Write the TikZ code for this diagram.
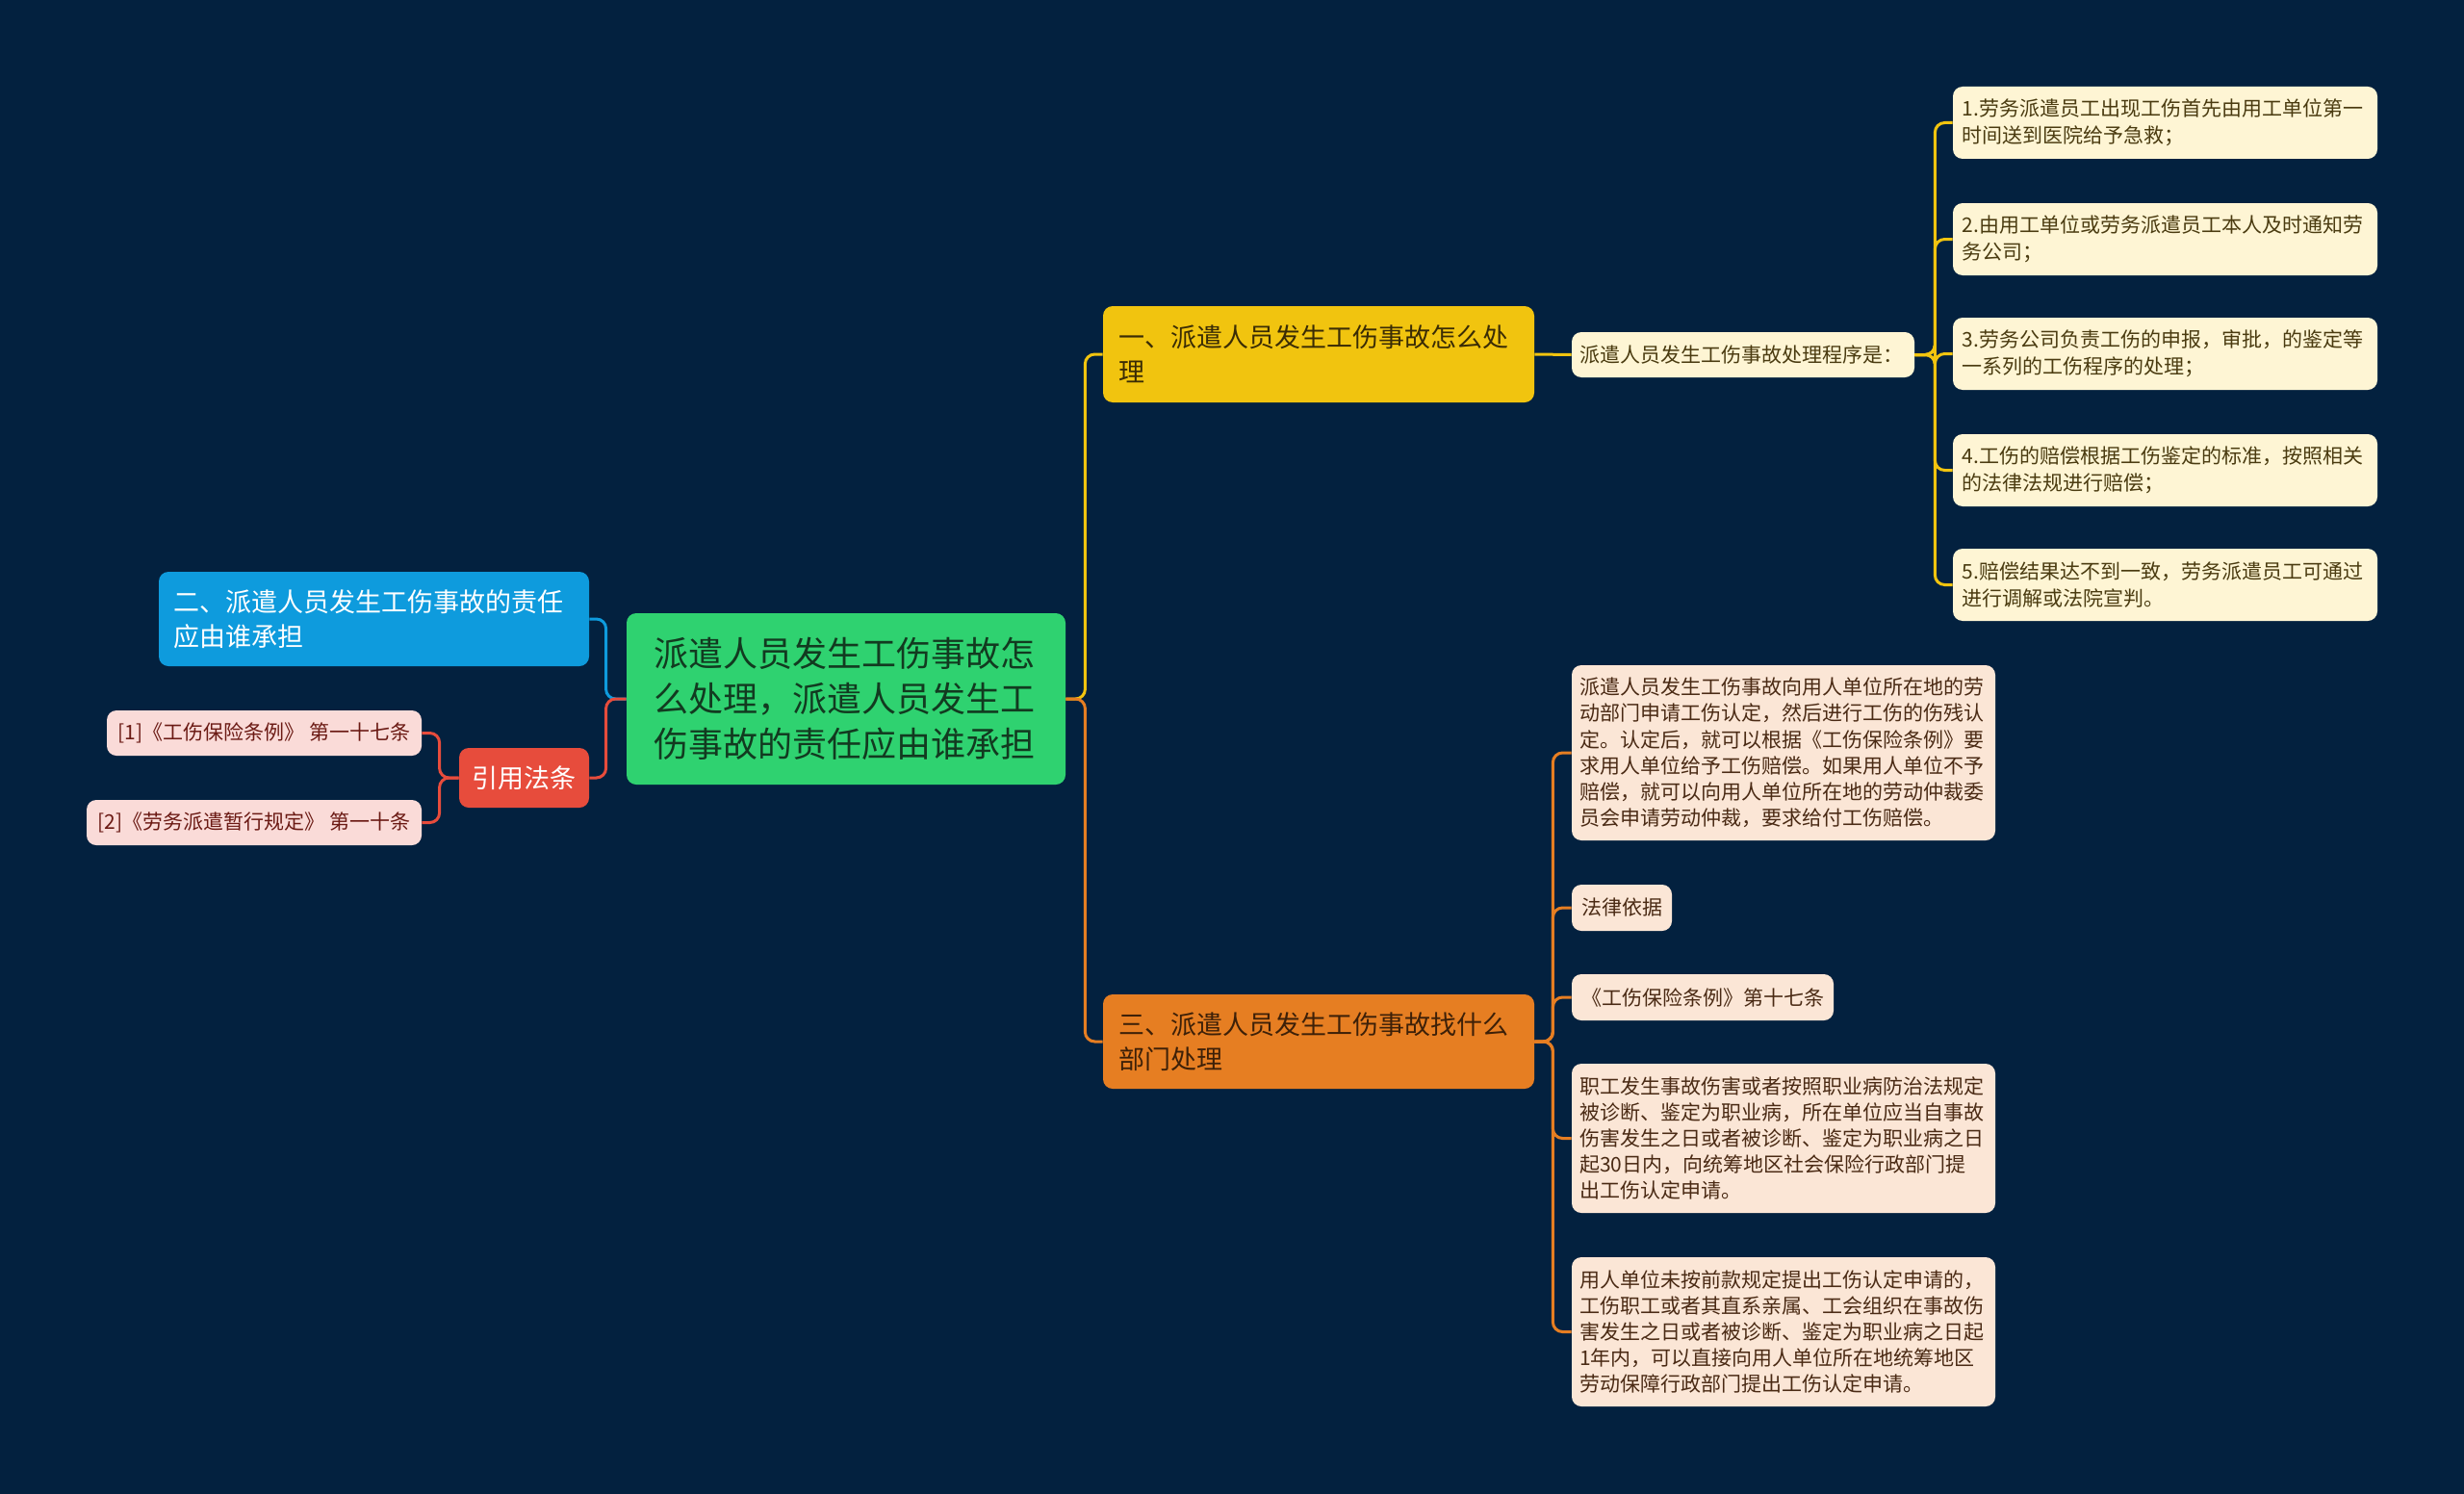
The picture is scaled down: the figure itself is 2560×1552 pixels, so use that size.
\documentclass[tikz,border=0pt]{standalone}
\usepackage{fontspec}
\setmainfont{Noto Sans CJK SC}
\definecolor{bg}{HTML}{03213F}
\definecolor{cgreen}{HTML}{2FD270}
\definecolor{cyellow}{HTML}{F1C40F}
\definecolor{corange}{HTML}{E67E22}
\definecolor{cblue}{HTML}{0E9BDD}
\definecolor{cred}{HTML}{E74C3C}
\definecolor{cpink}{HTML}{FADBD8}
\definecolor{ccream}{HTML}{FEF5D4}
\definecolor{cpeach}{HTML}{FBE6D6}
\definecolor{tgreen}{HTML}{123A20}
\definecolor{tyellow}{HTML}{3A2C05}
\definecolor{torange}{HTML}{3D2008}
\definecolor{tpink}{HTML}{6B1A14}
\definecolor{tcream}{HTML}{4A3B10}
\definecolor{tpeach}{HTML}{4A2A14}
\tikzset{
  box/.style={rounded corners=5pt, inner sep=0pt, align=left, anchor=center},
  bigfont/.style={font=\fontsize{18pt}{23.5pt}\selectfont},
  midfont/.style={font=\fontsize{13.5pt}{18pt}\selectfont},
  smallfont/.style={font=\fontsize{10.5pt}{14pt}\selectfont},
  peachfont/.style={font=\fontsize{10.5pt}{13.6pt}\selectfont},
  link/.style={line width=1.5pt, rounded corners=5pt},
  itembox/.style={box, smallfont, fill=ccream, text=tcream, minimum width=220.5pt, minimum height=37.5pt, text width=211pt},
  peachbox/.style={box, peachfont, fill=cpeach, text=tpeach, minimum width=220pt, text width=212pt},
}
\begin{document}
\begin{tikzpicture}[x=0.5pt,y=-0.5pt]
\fill[bg] (0,0) rectangle (2560,1552);
\useasboundingbox (0,0) rectangle (2560,1552);

% root
\node[box, bigfont, fill=cgreen, text=tgreen, minimum width=228pt, minimum height=89pt, text width=200pt] (root) at (879,726)
  {派遣人员发生工伤事故怎\\么处理，派遣人员发生工\\伤事故的责任应由谁承担};

% left side
\node[box, midfont, fill=cblue, text=white, minimum width=223.5pt, minimum height=49pt, text width=208pt] (blue) at (388.5,643)
  {二、派遣人员发生工伤事故的责任\\应由谁承担};
\node[box, midfont, fill=cred, text=white, minimum width=67.5pt, minimum height=31pt, align=center] (red) at (544.5,808) {引用法条};
\node[box, smallfont, fill=cpink, text=tpink, minimum width=163.5pt, minimum height=23.5pt, align=center] (p1) at (274.5,761.5)
  {[1]《工伤保险条例》 第一十七条};
\node[box, smallfont, fill=cpink, text=tpink, minimum width=174pt, minimum height=23.5pt, align=center] (p2) at (264,854.5)
  {[2]《劳务派遣暂行规定》 第一十条};

% right upper
\node[box, midfont, fill=cyellow, text=tyellow, minimum width=224pt, minimum height=50pt, text width=208pt] (y1) at (1370,368)
  {一、派遣人员发生工伤事故怎么处\\理};
\node[box, smallfont, fill=ccream, text=tcream, minimum width=178pt, minimum height=23.5pt, text width=170pt] (prog) at (1811,368.5)
  {派遣人员发生工伤事故处理程序是：};
\node[itembox] (i1) at (2249.5,127.5) {1.劳务派遣员工出现工伤首先由用工单位第一\\时间送到医院给予急救；};
\node[itembox] (i2) at (2249.5,248.5) {2.由用工单位或劳务派遣员工本人及时通知劳\\务公司；};
\node[itembox] (i3) at (2249.5,367.5) {3.劳务公司负责工伤的申报，审批，的鉴定等\\一系列的工伤程序的处理；};
\node[itembox] (i4) at (2249.5,488.5) {4.工伤的赔偿根据工伤鉴定的标准，按照相关\\的法律法规进行赔偿；};
\node[itembox] (i5) at (2249.5,607.5) {5.赔偿结果达不到一致，劳务派遣员工可通过\\进行调解或法院宣判。};

% right lower
\node[box, midfont, fill=corange, text=torange, minimum width=224pt, minimum height=49pt, text width=208pt] (o1) at (1370,1082)
  {三、派遣人员发生工伤事故找什么\\部门处理};
\node[peachbox, minimum height=91pt] (a1) at (1853,782)
  {派遣人员发生工伤事故向用人单位所在地的劳\\动部门申请工伤认定，然后进行工伤的伤残认\\定。认定后，就可以根据《工伤保险条例》要\\求用人单位给予工伤赔偿。如果用人单位不予\\赔偿，就可以向用人单位所在地的劳动仲裁委\\员会申请劳动仲裁，要求给付工伤赔偿。};
\node[box, peachfont, fill=cpeach, text=tpeach, minimum width=52pt, minimum height=24pt, align=center] (a2) at (1685,943) {法律依据};
\node[box, peachfont, fill=cpeach, text=tpeach, minimum width=136pt, minimum height=24pt, align=center] (a3) at (1769,1036) {《工伤保险条例》第十七条};
\node[peachbox, minimum height=77.5pt] (a4) at (1853,1182.5)
  {职工发生事故伤害或者按照职业病防治法规定\\被诊断、鉴定为职业病，所在单位应当自事故\\伤害发生之日或者被诊断、鉴定为职业病之日\\起30日内，向统筹地区社会保险行政部门提\\出工伤认定申请。};
\node[peachbox, minimum height=77.5pt] (a5) at (1853,1383.5)
  {用人单位未按前款规定提出工伤认定申请的，\\工伤职工或者其直系亲属、工会组织在事故伤\\害发生之日或者被诊断、鉴定为职业病之日起\\1年内，可以直接向用人单位所在地统筹地区\\劳动保障行政部门提出工伤认定申请。};

% connectors
\draw[link, cyellow] (root.east) -- ++(20,0) |- (y1.west);
\draw[link, corange] (root.east) -- ++(20,0) |- (o1.west);
\draw[link, cblue] (root.west) -- ++(-21,0) |- (blue.east);
\draw[link, cred] (root.west) -- ++(-21,0) |- (red.east);
\draw[link, cred] (red.west) -- ++(-20,0) |- (p1.east);
\draw[link, cred] (red.west) -- ++(-20,0) |- (p2.east);
\draw[link, cyellow] (y1.east) -- (prog.west);
\foreach \n in {i1,i2,i3,i4,i5}
  \draw[link, cyellow] (prog.east) -- ++(21,0) |- (\n.west);
\foreach \n in {a1,a2,a3,a4,a5}
  \draw[link, corange] (o1.east) -- ++(19,0) |- (\n.west);
\end{tikzpicture}
\end{document}
